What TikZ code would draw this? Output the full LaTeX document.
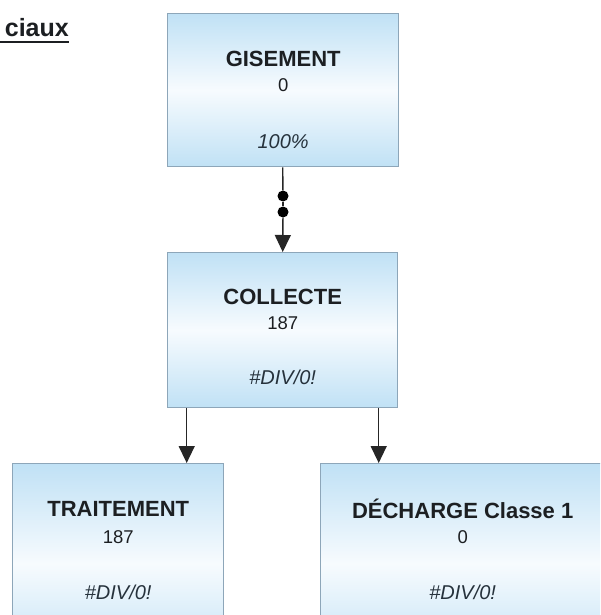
\documentclass[tikz,border=0pt]{standalone}
\usepackage{fontspec}
\setmainfont{Liberation Sans}
\usetikzlibrary{arrows.meta,calc}
\definecolor{boxblue}{HTML}{C0E1F5}
\definecolor{boxmid}{HTML}{F7FBFE}
\definecolor{boxline}{HTML}{8DA6B9}
\definecolor{txtdark}{HTML}{1C1F22}
\definecolor{txtital}{HTML}{26323C}
\definecolor{conn}{HTML}{262626}
\tikzset{
  flowbox/.style={draw=boxline, line width=1.4pt, rectangle, anchor=north west,
    top color=boxblue, bottom color=boxblue, middle color=boxmid, inner sep=0pt},
  ttltext/.style={font=\fontsize{22}{24}\selectfont\bfseries, text=txtdark, inner sep=0pt},
  numtext/.style={font=\fontsize{18.5}{20}\selectfont, text=txtdark, inner sep=0pt},
  pcttext/.style={font=\fontsize{20}{22}\selectfont\itshape, text=txtital, inner sep=0pt},
  conline/.style={draw=conn, line width=1.4pt},
  arrowline/.style={conline, -{Triangle[length=17pt,width=16pt]}},
  dotnode/.style={circle, fill=black, inner sep=0pt, minimum size=11pt},
}
\begin{document}
\begin{tikzpicture}[x=1pt,y=-1pt]
\clip (0,0) rectangle (600,615);
\fill[white] (0,0) rectangle (600,615);
% heading
\node[anchor=base east, font=\fontsize{25}{27}\selectfont\bfseries, text=txtdark, inner sep=0pt] (head) at (69,37) {ciaux};
\draw[line width=2.2pt, txtdark] ([xshift=-10pt,yshift=-5pt]head.base west) -- ([yshift=-5pt]head.base east);
% boxes
\node[flowbox, minimum width=231pt, minimum height=153pt] (gis) at (167,13) {};
\node[flowbox, minimum width=230pt, minimum height=155pt] (col) at (167,252) {};
\node[flowbox, minimum width=211pt, minimum height=200pt] (tra) at (12,463) {};
\node[flowbox, minimum width=300pt, minimum height=200pt] (dec) at (320,463) {};
% texts
\node[ttltext] (gisT) at ([yshift=-46pt]gis.north) {GISEMENT};
\node[numtext] (gisN) at ([yshift=-72pt]gis.north) {0};
\node[pcttext] (gisP) at ([yshift=-129pt]gis.north) {100\%};
\node[ttltext] (colT) at ([yshift=-45pt]col.north) {COLLECTE};
\node[numtext] (colN) at ([yshift=-71pt]col.north) {187};
\node[pcttext] (colP) at ([yshift=-125pt]col.north) {\#DIV/0!};
\node[ttltext] (traT) at ([yshift=-45.5pt]tra.north) {TRAITEMENT};
\node[numtext] (traN) at ([yshift=-74pt]tra.north) {187};
\node[pcttext] (traP) at ([yshift=-129pt]tra.north) {\#DIV/0!};
\node[ttltext] (decT) at ([xshift=-8pt,yshift=-45.5pt]dec.north) {DÉCHARGE Classe 1};
\node[numtext] (decN) at ([xshift=-8pt,yshift=-74pt]dec.north) {0};
\node[pcttext] (decP) at ([xshift=-8pt,yshift=-129pt]dec.north) {\#DIV/0!};
% connectors
\node[dotnode] (d1) at (283,196) {};
\node[dotnode] (d2) at (283,212) {};
\draw[conline] ([xshift=-0.5pt]gis.south) -- (d1);
\draw[conline] (d1) -- (d2);
\draw[arrowline] (d2) -- (col.north);
\draw[arrowline] ([xshift=-96pt]col.south) -- ([xshift=-96pt]col.south |- tra.north);
\draw[arrowline] ([xshift=96pt]col.south) -- ([xshift=96pt]col.south |- dec.north);
\end{tikzpicture}
\end{document}
